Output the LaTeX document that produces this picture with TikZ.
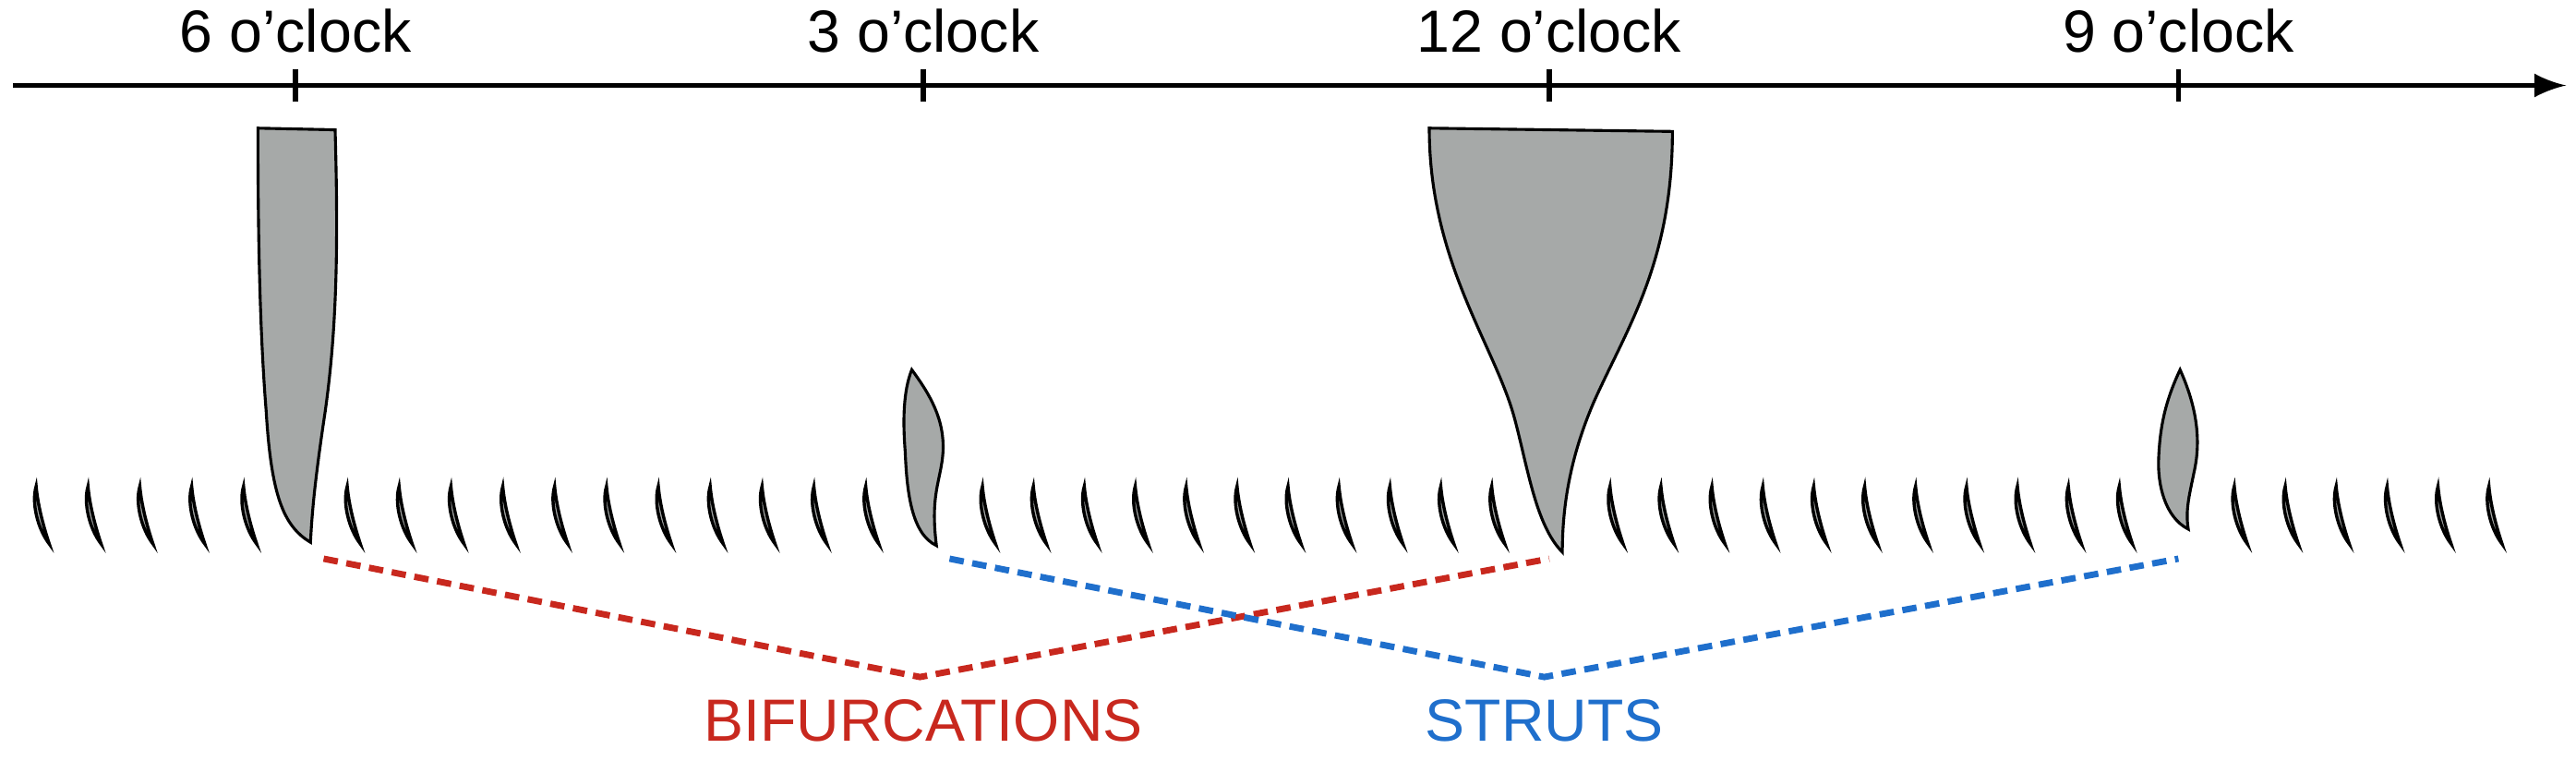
\documentclass[tikz,border=0pt]{standalone}
\usepackage{fontspec}
\setmainfont{Liberation Sans}
\begin{document}
\begin{tikzpicture}[x=0.01cm,y=-0.01cm,
  shp/.style={fill=shgray,draw=black,line width=0.5pt},
  lbl/.style={font=\fontsize{10.3}{12}\selectfont,inner sep=0pt},
  dsh/.style={line width=1.1pt,dash pattern=on 2.5pt off 1.5pt}]
\definecolor{shgray}{HTML}{A6A9A8}
\definecolor{bred}{HTML}{C8281E}
\definecolor{sblue}{HTML}{1F6FCC}
\useasboundingbox (0,0) rectangle (1568,470);
% axis
\coordinate (a0) at (8,52);
\coordinate (a1) at (1562,52);
\draw[line width=0.9pt,-latex] (a0) -- (a1);
\foreach \x/\t [count=\i] in {180/6 o’clock,562/3 o’clock,943/12 o’clock,1326/9 o’clock}{
  \draw[line width=0.9pt] (\x,42) -- (\x,62);
  \node[lbl,anchor=base] (t\i) at (\x,32) {\t};
}
% leaves
\def\leaf#1{\draw[shp,line width=0.55pt] (#1,296) .. controls (#1-3,306) and (#1+1,322) .. (#1+8,331)
       .. controls (#1+4,319) and (#1+1,307) .. cycle;}
\foreach \k in {0,...,16}{
  \ifnum\k=5\else\pgfmathsetmacro{\xo}{22+31.56*\k}\leaf{\xo}\fi}
\foreach \k in {0,...,10}{\pgfmathsetmacro{\xo}{598+31*\k}\leaf{\xo}}
\foreach \k in {0,...,10}{\pgfmathsetmacro{\xo}{980+31*\k}\leaf{\xo}}
\foreach \k in {0,...,5}{\pgfmathsetmacro{\xo}{1360+31*\k}\leaf{\xo}}
% 6 o'clock bar
\draw[shp] (157,78) -- (204,79) .. controls (206,150) and (205,200) .. (198,250)
  .. controls (192,290) and (190,310) .. (189,330)
  .. controls (172,320) and (165,300) .. (162,250)
  .. controls (158,200) and (157,140) .. cycle;
% 3 o'clock
\draw[shp] (555,225) .. controls (566,240) and (575,255) .. (574,275)
  .. controls (573,292) and (566,300) .. (570,332)
  .. controls (555,325) and (552,300) .. (551,275)
  .. controls (549,250) and (551,235) .. cycle;
% 12 o'clock
\draw[shp] (870,78) -- (1018,80) .. controls (1018,160) and (990,200) .. (970,245)
  .. controls (955,280) and (951,310) .. (951,336)
  .. controls (935,320) and (930,285) .. (922,255)
  .. controls (910,210) and (870,160) .. cycle;
% 9 o'clock
\draw[shp] (1327,225) .. controls (1336,245) and (1340,265) .. (1336,285)
  .. controls (1333,300) and (1330,310) .. (1332,322)
  .. controls (1318,315) and (1313,295) .. (1314,278)
  .. controls (1315,255) and (1320,240) .. cycle;
% dashed connectors
\coordinate (b1) at (197,340); \coordinate (bm) at (560,412); \coordinate (b2) at (943,340);
\coordinate (s1) at (578,340); \coordinate (sm) at (940,412); \coordinate (s2) at (1326,340);
\draw[dsh,bred] (b1) -- (bm) -- (b2);
\draw[dsh,sblue] (s1) -- (sm) -- (s2);
\node[lbl,anchor=base,text=bred] (bif) at (562,451) {BIFURCATIONS};
\node[lbl,anchor=base,text=sblue] (str) at (940,451) {STRUTS};
\end{tikzpicture}
\end{document}
